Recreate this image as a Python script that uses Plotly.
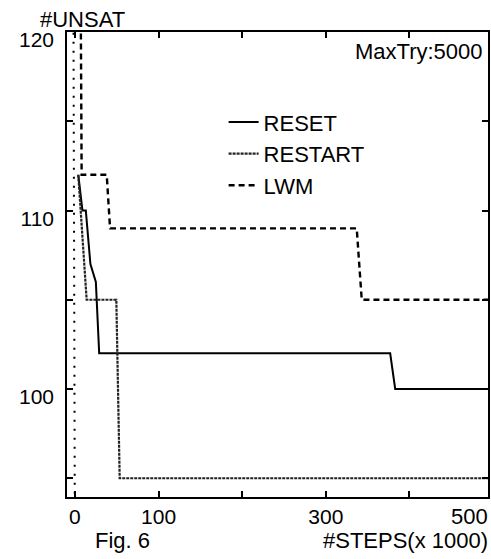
import plotly.graph_objects as go

# ---- data ----
RESET_X = [4, 9, 13, 18.5, 25, 29, 377, 383, 495]
RESET_Y = [112, 110, 110, 107, 106, 102, 102, 100, 100]

RESTART_X = [4, 14, 49.5, 53.5, 495]
RESTART_Y = [112, 105, 105, 95, 95]

LWM_X = [6, 8, 38, 42, 337, 343, 495]
LWM_Y = [130, 112, 112, 109, 109, 105, 105]

BASE_X = [-2, 0]
BASE_Y = [125, 90]

X_TICKS = [0, 100, 200, 300, 400]
X_TICK_TEXT = ["0", "100", "", "300", ""]
Y_TICKS = [95, 100, 105, 110, 115, 120]
Y_TICK_TEXT = ["", "100", "", "110", "", "120"]

FONT = "Liberation Sans, Arial, Helvetica, sans-serif"

fig = go.Figure()
fig.add_trace(go.Scatter(x=RESET_X, y=RESET_Y, mode="lines", name="RESET",
                         line=dict(color="black", width=2)))
fig.add_trace(go.Scatter(x=RESTART_X, y=RESTART_Y, mode="lines", name="RESTART",
                         line=dict(color="#222222", width=2.2, dash="3px,1px")))
fig.add_trace(go.Scatter(x=LWM_X, y=LWM_Y, mode="lines", name="LWM",
                         line=dict(color="black", width=2.4, dash="6px,4px")))
fig.add_trace(go.Scatter(x=BASE_X, y=BASE_Y, mode="lines", showlegend=False,
                         line=dict(color="black", width=2, dash="2px,7px")))

axis_common = dict(showline=True, linecolor="black", linewidth=1.6, mirror="ticks",
                   ticks="inside", ticklen=6, tickwidth=1.6, tickcolor="black",
                   showgrid=False, zeroline=False,
                   tickfont=dict(family=FONT, size=21, color="black"))

fig.update_xaxes(range=[-9.5, 494], tickmode="array", tickvals=X_TICKS,
                 ticktext=X_TICK_TEXT, ticklabelstandoff=0, **axis_common)
fig.update_yaxes(range=[93.95, 120], tickmode="array", tickvals=Y_TICKS,
                 ticktext=Y_TICK_TEXT, ticklabelstandoff=7, ticklabelshift=8,
                 **axis_common)

def ann(text, x, y, xanchor):
    fig.add_annotation(text=text, x=x, y=y, xref="paper", yref="paper",
                       xanchor=xanchor, yanchor="middle", showarrow=False,
                       font=dict(family=FONT, size=22, color="black"))

ann("#UNSAT", -0.0686, 1.027, "left")
ann("MaxTry:5000", 0.993, 0.959, "right")
ann("Fig. 6", 0.131, -0.0946, "center")
ann("#STEPS(x 1000)", 1.004, -0.0946, "right")
ann("500", 1.004, -0.0409, "right")

fig.update_layout(
    width=491, height=559,
    margin=dict(l=67, r=1, t=32, b=62),
    paper_bgcolor="white", plot_bgcolor="white",
    showlegend=True,
    legend=dict(x=0.372, y=0.851, xanchor="left", yanchor="top",
                bgcolor="rgba(0,0,0,0)", itemwidth=30,
                font=dict(family=FONT, size=22, color="black")),
)

fig.write_html("out.html", config={"displayModeBar": False},
               post_script="document.body.style.margin='0';document.body.style.overflow='hidden';")
